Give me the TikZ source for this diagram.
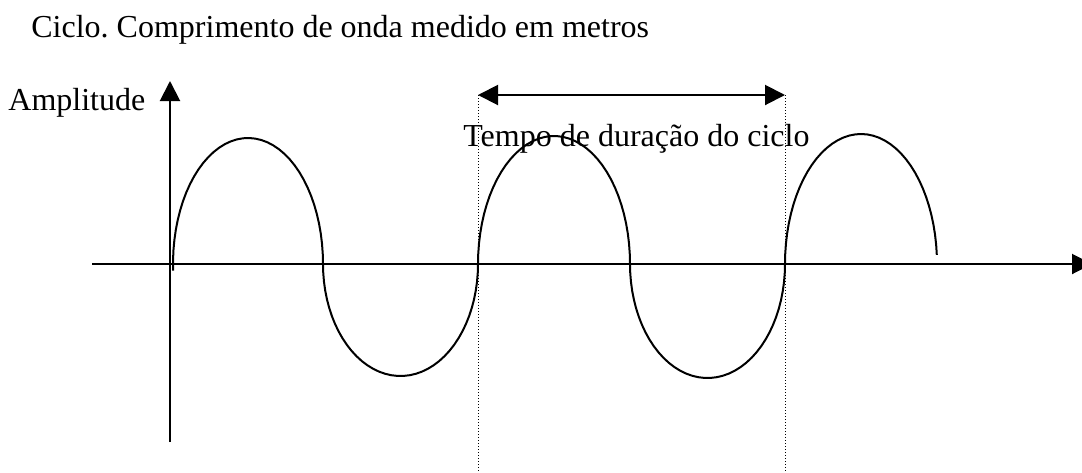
\documentclass[tikz,border=0pt]{standalone}
\usepackage{fontspec}
\setmainfont{Liberation Serif}
\usepackage{tikz}
\usetikzlibrary{arrows.meta, positioning, calc}
\frenchspacing

\begin{document}
\begin{tikzpicture}[
    x=0.5pt, y=-0.5pt,
    lbl/.style={font=\fontsize{16}{18}\selectfont, inner sep=0pt, anchor=base west},
    axis/.style={line width=1pt, -{Triangle[length=10pt,width=10pt]}},
    span/.style={line width=1pt, {Triangle[length=10pt,width=10pt]}-{Triangle[length=10pt,width=10pt]}},
    guide/.style={line width=0.5pt, dash pattern=on 0.5pt off 1pt},
    wave/.style={line width=1pt},
]
\clip (0,0) rectangle (1082,472);
\useasboundingbox (0,0) rectangle (1082,472);

\node[lbl] (title) at (31,37) {Ciclo. Comprimento de onda medido em metros};
\node[lbl] (amp) at (8,110) {Amplitude};
\node[lbl] (tempo) at (463,146) {Tempo de duração do ciclo};

% axes
\coordinate (ybot) at (170,442);
\coordinate (ytop) at (170,81);
\coordinate (xleft) at (92,264);
\coordinate (xright) at (1092,264);
\draw[axis] (ybot) -- (ytop);
\draw[axis] (xleft) -- (xright);

% one cycle marked off
\coordinate (c1top) at (478,95);
\coordinate (c1bot) at (478,472);
\coordinate (c2top) at (785,95);
\coordinate (c2bot) at (785,472);
\draw[guide] (c1top) -- (c1bot);
\draw[guide] (c2top) -- (c2bot);
\draw[span] (c1top) -- (c2top);

% the wave
\draw[wave]
    plot[domain=183:0, samples=40] ({248+75*cos(\x)},{264-126*sin(\x)})
 -- plot[domain=180:360, samples=40] ({400.5+77.5*cos(\x)},{264-112*sin(\x)})
 -- plot[domain=180:0, samples=40] ({554+76*cos(\x)},{264-128*sin(\x)})
 -- plot[domain=180:360, samples=40] ({707.5+77.5*cos(\x)},{264-114*sin(\x)})
 -- plot[domain=180:4, samples=40] ({861+76*cos(\x)},{264-130*sin(\x)});
\end{tikzpicture}
\end{document}
